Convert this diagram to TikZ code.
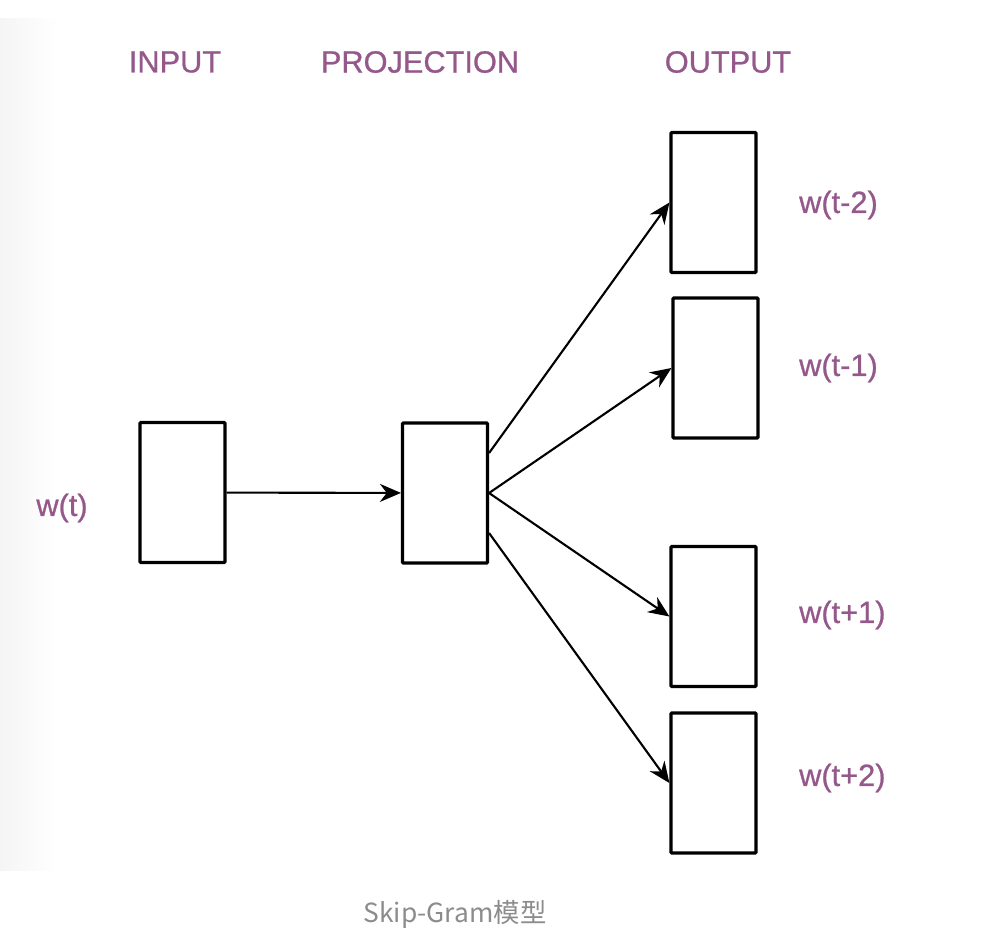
\documentclass[tikz,border=0pt]{standalone}
\usepackage{fontspec}
\setmainfont{Liberation Sans}
\newfontfamily\lblfont[FakeBold=0.8]{Liberation Sans}
\newfontfamily\cjk{Noto Sans CJK SC}
\usepackage{tikz}
\usetikzlibrary{arrows.meta}
\definecolor{labelc}{RGB}{148,88,138}
\definecolor{capc}{RGB}{140,140,140}
\tikzset{
  unit/.style={draw, line width=1.8pt, rounded corners=0.5pt, minimum width=1.7cm, minimum height=2.8cm, inner sep=0pt},
  lbl/.style={text=labelc, font=\lblfont\fontsize{17.5}{20}\selectfont},
  conn/.style={line width=1.2pt, -{Stealth[length=0.42cm, width=0.36cm]}}
}

\begin{document}
\begin{tikzpicture}[x=0.02cm, y=-0.02cm]
\useasboundingbox (0,0) rectangle (994,948);
\shade[left color=black!4, right color=white] (0,18) rectangle (58,870);
\node[lbl] (hin) at (175,62) {INPUT};
\node[lbl] (hproj) at (420,62) {PROJECTION};
\node[lbl] (hout) at (728,62) {OUTPUT};
\node[unit] (in) at (182.5,492.5) {};
\node[unit] (proj) at (445,493) {};
\node[lbl] (win) at (62,508) {w(t)};
\draw[conn] (in) -- (proj);
\coordinate (pa) at ([yshift=0.8cm]proj.east);
\coordinate (pb) at (proj.east);
\coordinate (pc) at ([yshift=-0.8cm]proj.east);
\foreach \o/\x/\y/\s/\l/\ly in {o1/713.5/202.5/pa/w(t-2)/205, o2/715.5/368/pb/w(t-1)/368, o3/713.5/616.5/pb/w(t+1)/615, o4/713.5/783/pc/w(t+2)/778}
{\node[unit] (\o) at (\x,\y) {};
 \node[lbl, anchor=west] (l\o) at (793,\ly) {\l};
 \draw[conn] (\s) -- (\o.west);}
\node[text=capc, font=\cjk\fontsize{15}{18}\selectfont] (cap) at (455,914) {Skip-Gram模型};
\end{tikzpicture}
\end{document}
